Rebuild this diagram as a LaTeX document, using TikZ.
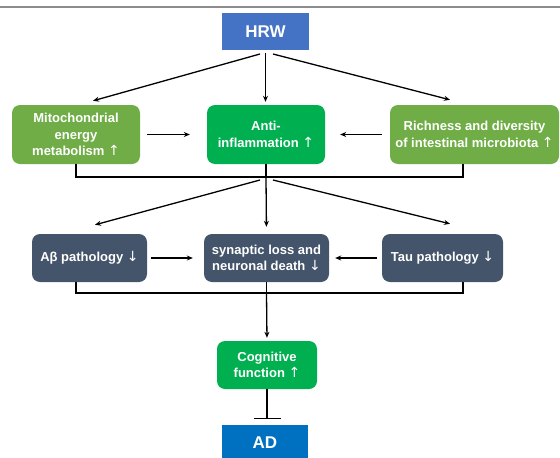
\documentclass[tikz,border=0pt]{standalone}
\usepackage{fontspec}
\setmainfont{Liberation Sans}
\newfontfamily\symfont{DejaVu Sans}
\newcommand\arrup{{\symfont\mdseries\fontsize{14}{16.5}\selectfont ↑}}
\newcommand\arrdn{{\symfont\mdseries\fontsize{14}{16.5}\selectfont ↓}}
\usetikzlibrary{arrows.meta,calc}

\definecolor{hrwblue}{HTML}{4472C4}
\definecolor{leafgreen}{HTML}{70AD47}
\definecolor{brightgreen}{HTML}{00B050}
\definecolor{slate}{HTML}{44546A}
\definecolor{adblue}{HTML}{0070C0}

\begin{document}
\begin{tikzpicture}[x=1pt,y=-1pt,
  box/.style={rounded corners=8pt,text=white,align=center,inner sep=0pt,
    font=\bfseries\fontsize{13}{16.5}\selectfont},
  title/.style={box,rounded corners=0pt,font=\bfseries\fontsize{17}{20}\selectfont},
  arr/.style={-{Stealth[length=6pt,width=5pt]},line width=1.3pt},
  line/.style={line width=1.3pt},
  ]
\useasboundingbox (0,0) rectangle (560,458);
\clip (0,0) rectangle (560,458);
\draw[gray!90,line width=2pt] (0,7) -- (560,7);

\node[title,fill=hrwblue,minimum width=87pt,minimum height=37pt] (hrw) at (265.5,31.5) {HRW};

\node[box,fill=leafgreen,minimum width=128pt,minimum height=59pt] (mito) at (76,134.5)
  {Mitochondrial\\energy\\metabolism \arrup};
\node[box,fill=brightgreen,minimum width=118pt,minimum height=59pt] (anti) at (266,134.5)
  {Anti-\\inflammation \arrup};
\node[box,fill=leafgreen,minimum width=169pt,minimum height=59pt] (rich) at (474.5,134.5)
  {Richness and diversity\\of intestinal microbiota \arrup};

\node[box,fill=slate,minimum width=115pt,minimum height=48pt] (abeta) at (89.5,258)
  {Aβ pathology \arrdn};
\node[box,fill=slate,minimum width=125pt,minimum height=48pt] (syn) at (266.5,258)
  {synaptic loss and\\neuronal death \arrdn};
\node[box,fill=slate,minimum width=121pt,minimum height=48pt] (tau) at (442.5,258)
  {Tau pathology \arrdn};

\node[box,fill=brightgreen,minimum width=100pt,minimum height=48pt] (cog) at (267,365)
  {Cognitive\\function \arrup};
\node[title,fill=adblue,minimum width=86pt,minimum height=36pt] (ad) at (265,443) {AD};

\coordinate (hl) at (260,54);
\coordinate (hr) at (273,54);
\coordinate (j1) at (266,177);
\coordinate (j1l) at (260,180);
\coordinate (j1r) at (273,180);
\coordinate (richfoot) at (463,164);
\coordinate (j2) at (266.5,293);
\coordinate (taufoot) at (463,282);

\draw[arr] (hl) -- ($(mito.north)+(17,-4)$);
\draw[arr] (hr) -- ($(rich.north)+(-24.5,-5)$);
\draw[arr,shorten <=3pt,shorten >=3pt] (hrw.south) -- (hrw.south |- anti.north);

\draw[arr,shorten <=7pt,shorten >=17pt] (mito.east) -- (anti.west);
\draw[arr,shorten <=8pt,shorten >=15pt] (rich.west) -- (anti.east);

\draw[line] (mito.south) |- (j1) -| (richfoot);
\draw[line] (anti.south) -- (j1);
\draw[arr,shorten >=7pt] (j1) -- (syn.north);
\draw[arr] (j1l) -- ($(abeta.north)+(5.5,-9)$);
\draw[arr] (j1r) -- ($(tau.north)+(7.5,-10)$);

\draw[arr,shorten <=4pt,shorten >=11pt] (abeta.east) -- (syn.west);
\draw[arr,shorten <=5pt,shorten >=6pt] (tau.west) -- (syn.east);

\draw[line] ($(abeta.south)+(-13.5,0)$) |- (j2) -| (taufoot);
\draw[line] (syn.south) -- (j2);
\draw[arr,shorten >=3pt] (j2) -- (cog.north);

\draw[line,-{Bar[width=27pt,line width=1.3pt]},shorten >=6pt] (cog.south) -- (cog.south |- ad.north);
\end{tikzpicture}
\end{document}
